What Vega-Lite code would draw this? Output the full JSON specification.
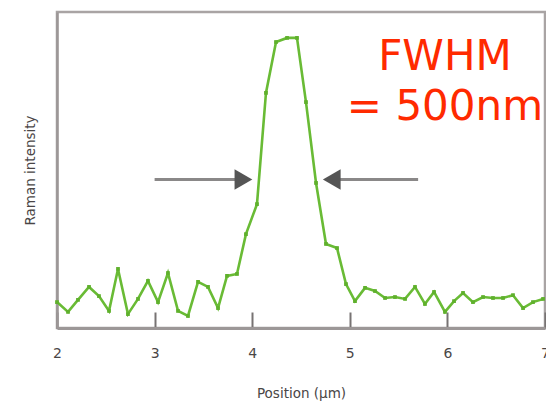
{
  "$schema": "https://vega.github.io/schema/vega-lite/v6.json",
  "width": 488,
  "height": 316,
  "autosize": "none",
  "padding": {"left": 57, "top": 12, "right": 1, "bottom": 77},
  "background": "white",
  "config": {
    "view": {"stroke": "#a9a4a4", "strokeWidth": 2.5},
    "font": "DejaVu Sans"
  },
  "datasets": {
    "profile": [
      {"pos": 2.000, "intensity": 8.2},
      {"pos": 2.113, "intensity": 5.1},
      {"pos": 2.215, "intensity": 8.9},
      {"pos": 2.328, "intensity": 13.0},
      {"pos": 2.430, "intensity": 10.1},
      {"pos": 2.533, "intensity": 5.4},
      {"pos": 2.625, "intensity": 18.7},
      {"pos": 2.727, "intensity": 4.4},
      {"pos": 2.830, "intensity": 9.2},
      {"pos": 2.932, "intensity": 14.9},
      {"pos": 3.035, "intensity": 8.2},
      {"pos": 3.137, "intensity": 17.4},
      {"pos": 3.240, "intensity": 5.4},
      {"pos": 3.342, "intensity": 3.8},
      {"pos": 3.445, "intensity": 14.6},
      {"pos": 3.547, "intensity": 13.0},
      {"pos": 3.650, "intensity": 6.3},
      {"pos": 3.742, "intensity": 16.5},
      {"pos": 3.844, "intensity": 17.1},
      {"pos": 3.936, "intensity": 29.7},
      {"pos": 4.049, "intensity": 39.2},
      {"pos": 4.141, "intensity": 74.4},
      {"pos": 4.244, "intensity": 90.5},
      {"pos": 4.357, "intensity": 91.8},
      {"pos": 4.459, "intensity": 91.8},
      {"pos": 4.551, "intensity": 71.5},
      {"pos": 4.654, "intensity": 45.9},
      {"pos": 4.756, "intensity": 26.6},
      {"pos": 4.869, "intensity": 25.3},
      {"pos": 4.961, "intensity": 13.9},
      {"pos": 5.053, "intensity": 8.5},
      {"pos": 5.156, "intensity": 12.7},
      {"pos": 5.258, "intensity": 11.7},
      {"pos": 5.361, "intensity": 9.5},
      {"pos": 5.463, "intensity": 9.8},
      {"pos": 5.566, "intensity": 9.2},
      {"pos": 5.668, "intensity": 13.0},
      {"pos": 5.770, "intensity": 7.6},
      {"pos": 5.863, "intensity": 11.4},
      {"pos": 5.975, "intensity": 5.1},
      {"pos": 6.068, "intensity": 8.5},
      {"pos": 6.160, "intensity": 11.1},
      {"pos": 6.262, "intensity": 8.2},
      {"pos": 6.365, "intensity": 9.8},
      {"pos": 6.467, "intensity": 9.5},
      {"pos": 6.570, "intensity": 9.5},
      {"pos": 6.672, "intensity": 10.4},
      {"pos": 6.775, "intensity": 6.3},
      {"pos": 6.877, "intensity": 8.2},
      {"pos": 6.980, "intensity": 9.2}
    ],
    "shafts": [
      {"from": 3.0, "to": 3.92, "level": 47.0},
      {"from": 4.80, "to": 5.70, "level": 47.0}
    ],
    "heads": [
      {"pos": 3.91, "level": 47.0, "dir": "right"},
      {"pos": 4.815, "level": 47.0, "dir": "left"}
    ],
    "labels": [
      {"pos": 5.975, "level": 81.6, "text": "FWHM"},
      {"pos": 5.975, "level": 65.8, "text": "= 500nm"}
    ]
  },
  "encoding": {
    "x": {
      "type": "quantitative",
      "scale": {"domain": [2, 7], "nice": false, "zero": false},
      "axis": {
        "title": "Position (μm)",
        "values": [2, 3, 4, 5, 6, 7],
        "format": "d",
        "grid": false,
        "domainColor": "#9c9797",
        "domainWidth": 3,
        "tickColor": "#777373",
        "tickWidth": 2,
        "tickSize": -16,
        "labelPadding": 34,
        "labelFontSize": 14,
        "labelColor": "#4a4646",
        "labelFlush": false,
        "labelOverlap": false,
        "titleFontSize": 13.5,
        "titleFontWeight": "normal",
        "titleColor": "#4a4646",
        "titlePadding": 26
      }
    },
    "y": {
      "type": "quantitative",
      "scale": {"domain": [0, 100], "nice": false},
      "axis": {
        "title": "Raman intensity",
        "labels": false,
        "ticks": false,
        "grid": false,
        "domainColor": "#9c9797",
        "domainWidth": 2.5,
        "titleFontSize": 13.5,
        "titleFontWeight": "normal",
        "titleColor": "#4a4646",
        "titlePadding": 20
      }
    }
  },
  "layer": [
    {
      "data": {"name": "profile"},
      "mark": {"type": "line", "color": "#69bb35", "strokeWidth": 2.6, "point": {"filled": true, "shape": "square", "size": 14, "color": "#5fb02c"}},
      "encoding": {
        "x": {"field": "pos", "type": "quantitative"},
        "y": {"field": "intensity", "type": "quantitative"}
      }
    },
    {
      "data": {"name": "shafts"},
      "mark": {"type": "rule", "color": "#8a8888", "strokeWidth": 3},
      "encoding": {
        "x": {"field": "from", "type": "quantitative"},
        "x2": {"field": "to"},
        "y": {"field": "level", "type": "quantitative"}
      }
    },
    {
      "data": {"name": "heads"},
      "mark": {"type": "point", "filled": true, "size": 420, "color": "#555555", "opacity": 1},
      "encoding": {
        "x": {"field": "pos", "type": "quantitative"},
        "y": {"field": "level", "type": "quantitative"},
        "shape": {"field": "dir", "type": "nominal", "scale": {"domain": ["right", "left"], "range": ["triangle-right", "triangle-left"]}, "legend": null}
      }
    },
    {
      "data": {"name": "labels"},
      "mark": {"type": "text", "color": "#ff2a00", "fontSize": 42, "align": "center", "baseline": "alphabetic", "font": "DejaVu Sans"},
      "encoding": {
        "x": {"field": "pos", "type": "quantitative"},
        "y": {"field": "level", "type": "quantitative"},
        "text": {"field": "text"}
      }
    }
  ]
}
